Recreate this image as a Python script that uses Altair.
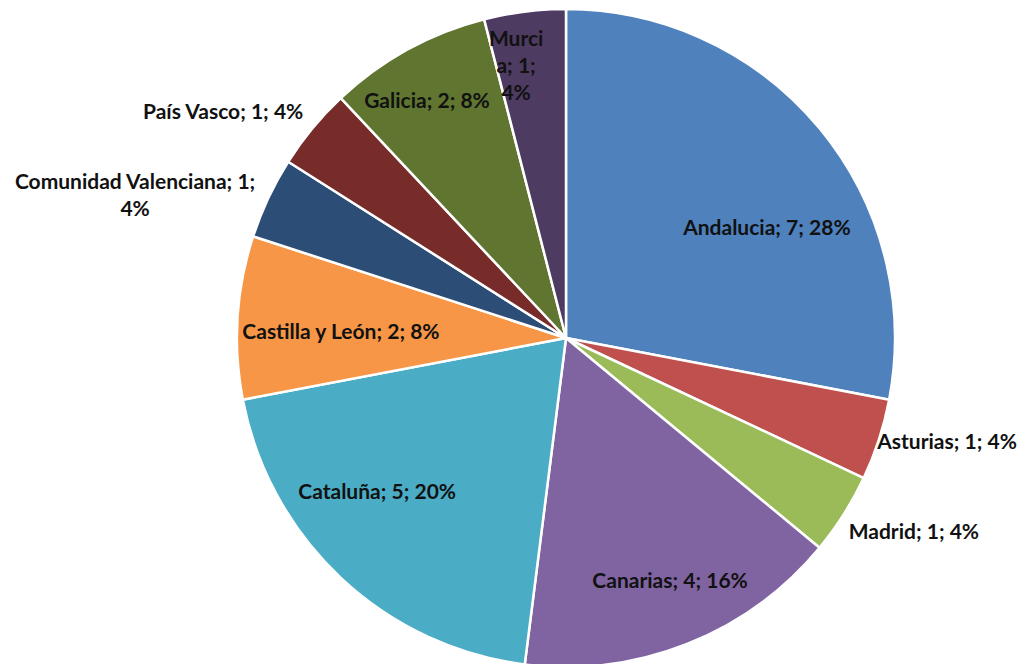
import altair as alt
import pandas as pd

regions = ["Andalucia", "Asturias", "Madrid", "Canarias", "Cataluña",
           "Castilla y León", "Comunidad Valenciana", "País Vasco", "Galicia", "Murcia"]
counts = [7, 1, 1, 4, 5, 2, 1, 1, 2, 1]
colors = ["#4F81BD", "#C0504D", "#9BBB59", "#8064A2", "#4BACC6",
          "#F79646", "#2C4D75", "#772C2A", "#5F7530", "#4D3B62"]
# label text (line breaks as in the original)
label_text = ["Andalucia; 7; 28%", "Asturias; 1; 4%", "Madrid; 1; 4%", "Canarias; 4; 16%",
              "Cataluña; 5; 20%", "Castilla y León; 2; 8%", "Comunidad Valenciana; 1;\n4%",
              "País Vasco; 1; 4%", "Galicia; 2; 8%", "Murci\na; 1;\n4%"]
# label placement of the first text line (polar, degrees clockwise from top / pixels from centre)
label_angle = [61.5, 105.4, 119.3, 156.9, 230.6, 271.3, 289.8, 303.3, 329.5, 350.5]
label_radius = [228.6, 395.2, 398.9, 265.2, 244.4, 225.1, 458.0, 410.2, 273.9, 302.2]

W, H = 1010, 656
CX, CY, R = 558, 330, 329

df = pd.DataFrame({
    "region": regions,
    "count": counts,
    "idx": list(range(len(regions))),
    "label": label_text,
    "la": label_angle,
    "lr": label_radius,
})

pie = alt.Chart(df).mark_arc(outerRadius=R, stroke="white", strokeWidth=2.5).encode(
    theta=alt.Theta("count:Q", stack=True),
    order=alt.Order("idx:Q"),
    color=alt.Color("region:N", scale=alt.Scale(domain=regions, range=colors), legend=None),
    x=alt.value(CX),
    y=alt.value(CY),
)

labels = alt.Chart(df).transform_calculate(
    px=f"{CX} + datum.lr * sin(datum.la * PI / 180)",
    py=f"{CY} - datum.lr * cos(datum.la * PI / 180)",
).mark_text(
    font="Lato", fontWeight="bold", fontSize=21, color="#111111",
    align="center", baseline="middle", lineBreak="\n", lineHeight=27,
).encode(
    x=alt.X("px:Q", scale=None, axis=None),
    y=alt.Y("py:Q", scale=None, axis=None),
    text="label:N",
)

chart = alt.layer(pie, labels).properties(
    width=W, height=H, padding=0, background="white",
    autosize=alt.AutoSizeParams(type="none"),
).configure_view(stroke=None)

chart.save("out.html", embed_options={"renderer": "svg", "actions": False})
